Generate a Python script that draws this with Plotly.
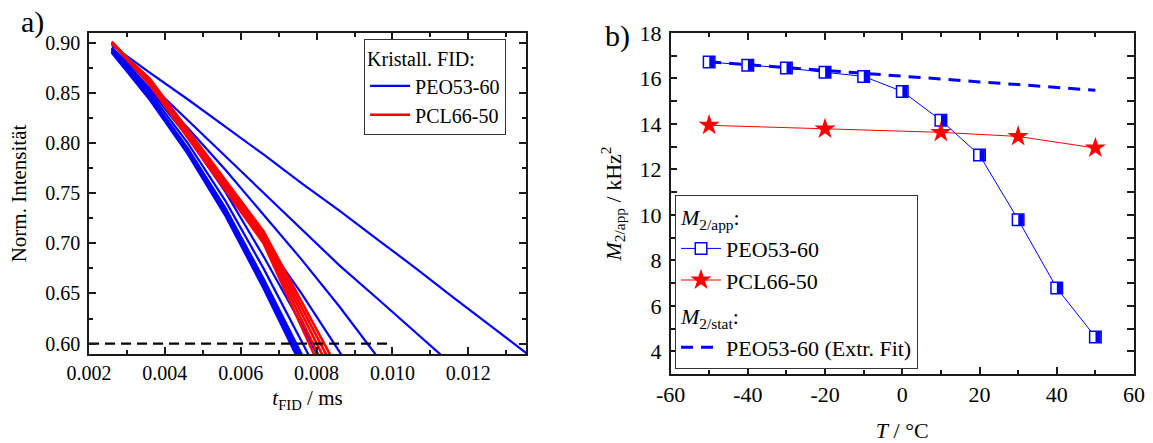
import plotly.graph_objects as go

# ---------------- data: panel a) normalised FID intensity ----------------
fid_t = [0.0026, 0.0036, 0.0046, 0.0056, 0.0066, 0.0076, 0.0086, 0.0096,
         0.0106, 0.0116, 0.0126, 0.0136]
fid_peo_m50 = [0.890, 0.843, 0.789, 0.727, 0.655, 0.578, 0.500]
fid_peo_m40 = [0.890, 0.844, 0.790, 0.729, 0.657, 0.581, 0.503]
fid_peo_m30 = [0.891, 0.845, 0.792, 0.730, 0.659, 0.584, 0.507]
fid_peo_m20 = [0.891, 0.846, 0.793, 0.732, 0.662, 0.587, 0.511]
fid_peo_m10 = [0.892, 0.847, 0.795, 0.735, 0.665, 0.591, 0.515]
fid_peo_0 = [0.893, 0.850, 0.800, 0.742, 0.675, 0.604, 0.530]
fid_peo_10 = [0.894, 0.853, 0.806, 0.751, 0.687, 0.619, 0.547]
fid_peo_20 = [0.894, 0.853, 0.808, 0.757, 0.704, 0.650, 0.592, 0.532]
fid_peo_30 = [0.894, 0.855, 0.815, 0.773, 0.729, 0.684, 0.637, 0.588, 0.537]
fid_peo_40 = [0.895, 0.859, 0.823, 0.787, 0.750, 0.714, 0.678, 0.645, 0.612, 0.578]
fid_peo_50 = [0.8975, 0.870, 0.8435, 0.816, 0.7885, 0.760, 0.7325, 0.704,
              0.6755, 0.646, 0.6175, 0.5885]

fid_t_pcl = [0.0026, 0.0036, 0.0066, 0.0086]
fid_pcl_m50 = [0.900, 0.858, 0.700, 0.534]
fid_pcl_m20 = [0.900, 0.860, 0.703, 0.545]
fid_pcl_10 = [0.901, 0.861, 0.706, 0.555]
fid_pcl_30 = [0.900, 0.862, 0.709, 0.564]
fid_pcl_50 = [0.899, 0.864, 0.712, 0.572]

threshold_t = [0.002, 0.0099]
threshold_y = [0.60, 0.60]

# ---------------- data: panel b) second moments ----------------
temp_peo = [-50, -40, -30, -20, -10, 0, 10, 20, 30, 40, 50]
m2_peo = [16.72, 16.58, 16.46, 16.27, 16.09, 15.43, 14.16, 12.63, 9.79, 6.78, 4.63]
temp_pcl = [-50, -20, 10, 30, 50]
m2_pcl = [13.94, 13.78, 13.63, 13.45, 12.94]
temp_fit = [-50, -40, -30, -20, -10, 0, 10, 20, 30, 40, 50]
m2_fit = [16.73, 16.60, 16.48, 16.35, 16.23, 16.10, 15.98, 15.85, 15.73, 15.60, 15.48]

# tick labels
xb_tickvals = [-60, -40, -20, 0, 20, 40, 60]
xb_ticktext = ["-60", "-40", "-20", "0", "20", "40", "60"]

BLUE = "#0000FF"
RED = "#FF0000"
FONT = "Liberation Serif"
AX = "#1a1a1a"


def f(size):
    return dict(family=FONT, size=size, color="black")


fig = go.Figure()

peo_curves = [fid_peo_m50, fid_peo_m40, fid_peo_m30, fid_peo_m20, fid_peo_m10,
              fid_peo_0, fid_peo_10, fid_peo_20, fid_peo_30, fid_peo_40, fid_peo_50]
for i, ys in enumerate(peo_curves):
    fig.add_trace(go.Scatter(
        x=fid_t[:len(ys)], y=ys, mode="lines", xaxis="x", yaxis="y",
        line=dict(color=BLUE, width=2.2), name="PEO53-60",
        legendgroup="peo", showlegend=(i == 0), legend="legend",
        legendrank=1, hoverinfo="skip"))

pcl_curves = [fid_pcl_m50, fid_pcl_m20, fid_pcl_10, fid_pcl_30, fid_pcl_50]
for i, ys in enumerate(pcl_curves):
    fig.add_trace(go.Scatter(
        x=fid_t_pcl, y=ys, mode="lines", xaxis="x", yaxis="y",
        line=dict(color=RED, width=2.6), name="PCL66-50",
        legendgroup="pcl", showlegend=(i == 0), legend="legend",
        legendrank=2, hoverinfo="skip"))

fig.add_trace(go.Scatter(
    x=threshold_t, y=threshold_y, mode="lines", xaxis="x", yaxis="y",
    line=dict(color="black", width=2.2, dash="10px,6px"), showlegend=False,
    hoverinfo="skip"))

# panel b
fig.add_trace(go.Scatter(
    x=temp_fit, y=m2_fit, mode="lines", xaxis="x2", yaxis="y2",
    line=dict(color=BLUE, width=3, dash="12px,8px"),
    name="PEO53-60 (Extr. Fit)", legend="legend2", legendgroup="stat",
    legendgrouptitle=dict(text="<i>M</i><sub>2/stat</sub>:", font=f(22)),
    legendrank=3))

fig.add_trace(go.Scatter(
    x=temp_peo, y=m2_peo, mode="lines+markers", xaxis="x2", yaxis="y2",
    line=dict(color=BLUE, width=1),
    marker=dict(symbol="square", size=11.5, color="white",
                line=dict(color=BLUE, width=1.5)),
    name="PEO53-60", legend="legend2", legendgroup="app",
    legendgrouptitle=dict(text="<i>M</i><sub>2/app</sub>:", font=f(22)),
    legendrank=1))

fig.add_trace(go.Scatter(
    x=temp_pcl, y=m2_pcl, mode="lines+markers", xaxis="x2", yaxis="y2",
    line=dict(color=RED, width=1),
    marker=dict(symbol="star", size=16, color=RED, line=dict(width=0)),
    name="PCL66-50", legend="legend2", legendgroup="app", legendrank=2))

# right half of the half-filled squares (same data, overlay axis shifted by ~2.7 px)
fig.add_trace(go.Scatter(
    x=temp_peo, y=m2_peo, mode="markers", xaxis="x3", yaxis="y2",
    marker=dict(symbol="line-ns", size=7.8, color=BLUE,
                line=dict(color=BLUE, width=5.2)),
    showlegend=False, hoverinfo="skip"))

axis_common = dict(showline=True, linecolor=AX, linewidth=1.5,
                   mirror="allticks", ticks="inside", ticklen=7, tickwidth=1.5,
                   tickcolor=AX, showgrid=False, zeroline=False,
                   automargin=False)
minor_common = dict(ticks="inside", ticklen=4, tickwidth=1.5, tickcolor=AX)

fig.update_layout(
    width=1153, height=443,
    margin=dict(l=89, r=19, t=33, b=69),
    paper_bgcolor="white", plot_bgcolor="white",
    font=f(20),
    xaxis=dict(domain=[0, 0.4182], range=[0.002, 0.01352], tick0=0.002, dtick=0.002,
               tickformat=".3f", tickfont=f(20),
               minor=dict(dtick=0.001, tick0=0.002, **minor_common),
               title=dict(text="<i>t</i><sub>FID</sub> / ms", font=f(21), standoff=8),
               anchor="y", **axis_common),
    yaxis=dict(domain=[0.0587, 1], range=[0.5897, 0.9095], tick0=0.6, dtick=0.05,
               tickformat=".2f", tickfont=f(20), ticklabelstandoff=3,
               minor=dict(dtick=0.025, tick0=0.6, **minor_common),
               title=dict(text="Norm. Intensität", font=f(21), standoff=13),
               anchor="x", **axis_common),
    xaxis2=dict(domain=[0.5565, 1], range=[-60, 60], tickmode="array",
                tickvals=xb_tickvals, ticktext=xb_ticktext, tickfont=f(22),
                minor=dict(tickmode="linear", tick0=-60, dtick=10, **minor_common),
                title=dict(text="<i>T</i> / °C", font=f(22), standoff=16),
                anchor="y2", **axis_common),
    xaxis3=dict(domain=[0.5565, 1], range=[-60.7, 59.3], overlaying="x2",
                anchor="y2", visible=False),
    yaxis2=dict(domain=[0, 1], range=[3, 18], tick0=0, dtick=2, tickfont=f(22),
                ticklabelstandoff=3,
                minor=dict(dtick=1, tick0=0, **minor_common),
                title=dict(text="<i>M</i><sub>2/app</sub> / kHz<sup>2</sup>",
                           font=f(22), standoff=12),
                anchor="x2", **axis_common),
    legend=dict(x=0.2632, y=0.9815, xanchor="left", yanchor="top",
                bgcolor="white", bordercolor="#333", borderwidth=1,
                font=f(20), title=dict(text="Kristall. FID:", font=f(20)),
                traceorder="normal", itemwidth=40),
    legend2=dict(x=0.5608, y=0.5249, xanchor="left", yanchor="top",
                 bgcolor="white", bordercolor="#333", borderwidth=1,
                 font=f(22), tracegroupgap=4,
                 traceorder="grouped", itemwidth=40,
                 grouptitlefont=f(22)),
    annotations=[
        dict(text="a)", xref="paper", yref="paper", x=-0.0545, y=1.032,
             xanchor="center", yanchor="middle", showarrow=False, font=f(30)),
        dict(text="b)", xref="paper", yref="paper", x=0.506, y=0.991,
             xanchor="center", yanchor="middle", showarrow=False, font=f(30)),
    ],
)

fig.write_html("out.html")
